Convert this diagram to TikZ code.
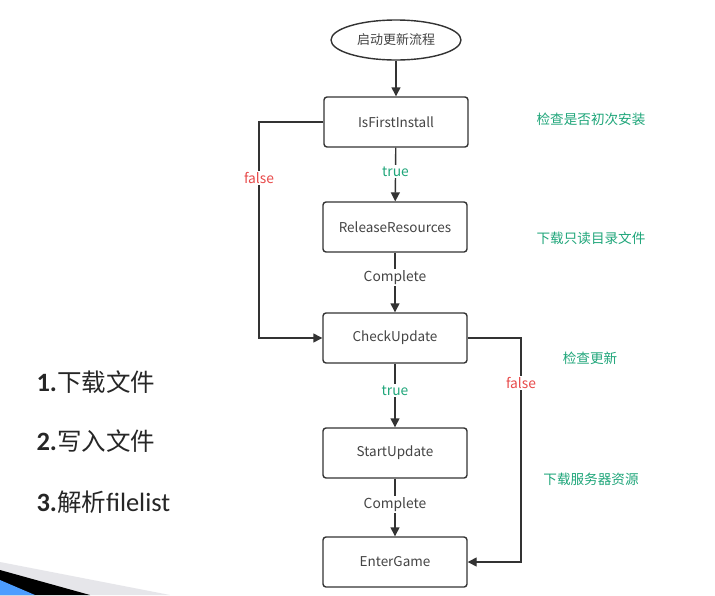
\documentclass[tikz,border=0pt]{standalone}
\usepackage{fontspec}
\setmainfont{Noto Sans CJK SC}
\newfontfamily\cjk{Noto Sans CJK SC}
\newfontfamily\listfont[Scale=1.08]{Carlito}
\usetikzlibrary{shapes.geometric,arrows.meta}
\definecolor{txt}{HTML}{444444}
\definecolor{grn}{HTML}{1FA67A}
\definecolor{rd}{HTML}{E84A4A}
\definecolor{ln}{HTML}{333333}
\begin{document}
\begin{tikzpicture}[x=1pt,y=-1pt,
  box/.style={draw=ln,line width=1.4pt,rounded corners=3pt,minimum width=144pt,minimum height=50pt,font=\fontsize{13.5}{15}\selectfont,text=txt,inner sep=0pt},
  conn/.style={draw=ln,line width=1.4pt,-{Triangle[length=9pt,width=9pt]}},
  lbl/.style={fill=white,inner sep=1.5pt,font=\fontsize{13.8}{15}\selectfont},
  note/.style={font=\fontsize{13.6}{15}\selectfont,text=grn},
  item/.style={anchor=west,font=\fontsize{24.5}{27}\selectfont,text=black!85}]
\useasboundingbox (0,0) rectangle (715,595);
\fill[white] (0,0) rectangle (715,595);
% decoration bottom-left
\fill[blue!8!gray!18] (0,562) -- (170,595) -- (0,595) -- cycle;
\fill[black] (0,570) -- (90,595) -- (0,595) -- cycle;
\fill[blue!55!cyan!70] (0,580) -- (35,595) -- (0,595) -- cycle;

\node[ellipse,draw=ln,line width=1.4pt,minimum width=130pt,minimum height=40pt,inner sep=0pt,font=\fontsize{13}{15}\selectfont,text=txt] (start) at (396,40) {启动更新流程};
\node[box] (ifi) at (396,122) {IsFirstInstall};
\node[box] (rr) at (395,227) {ReleaseResources};
\node[box] (cu) at (395,338) {CheckUpdate};
\node[box] (su) at (395,453) {StartUpdate};
\node[box] (eg) at (395,562) {EnterGame};

\draw[conn] (start) -- (ifi);
\draw[conn] (ifi) -- node[lbl,text=grn,pos=0.45]{true} (rr);
\draw[conn] (rr) -- node[lbl,text=txt,pos=0.42]{Complete} (cu);
\draw[conn] (cu) -- node[lbl,text=grn,pos=0.42]{true} (su);
\draw[conn] (su) -- node[lbl,text=txt,pos=0.45]{Complete} (eg);

\coordinate (l1) at (259,122);
\coordinate (l2) at (259,338);
\draw[conn] (ifi.west) -- (l1) -- node[lbl,text=rd,pos=0.26]{false} (l2) -- (cu.west);
\coordinate (r1) at (521,338);
\coordinate (r2) at (521,562);
\draw[conn] (cu.east) -- (r1) -- node[lbl,text=rd,pos=0.2]{false} (r2) -- (eg.east);

\node[note] (n1) at (591,119) {检查是否初次安装};
\node[note] (n2) at (591,238) {下载只读目录文件};
\node[note] (n3) at (590,358) {检查更新};
\node[note] (n4) at (591,479) {下载服务器资源};

\node[item] (i1) at (33,382) {{\listfont\bfseries 1.}下载文件};
\node[item] (i2) at (33,441) {{\listfont\bfseries 2.}写入文件};
\node[item] (i3) at (33,502) {{\listfont\bfseries 3.}解析{\listfont filelist}};
\end{tikzpicture}
\end{document}
